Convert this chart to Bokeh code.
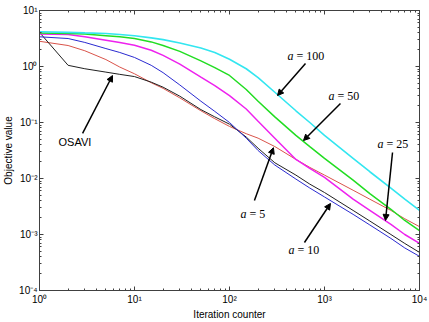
from bokeh.plotting import figure
from bokeh.models import Label, Arrow, NormalHead, LogAxis, LogTicker, CustomJSTickFormatter, Range1d
from bokeh.embed import file_html
from bokeh.resources import INLINE

# ---- data ----
iterations = [1, 2, 3, 5, 7, 10, 15, 20, 30, 50, 70, 100, 150, 200, 300, 500, 700,
              1000, 2000, 3000, 5000, 7000, 10000]
obj_a100 = [4.17, 4.07, 3.98, 3.89, 3.72, 3.55, 3.24, 3.02, 2.63, 2.14, 1.78, 1.35, 0.912,
            0.631, 0.347, 0.162, 0.100, 0.0589, 0.0229, 0.0132, 0.00676, 0.00427, 0.00269]
obj_a50 = [3.98, 3.89, 3.80, 3.55, 3.39, 3.16, 2.75, 2.37, 1.86, 1.26, 0.955, 0.692, 0.389,
           0.240, 0.126, 0.0589, 0.0372, 0.0229, 0.00933, 0.00537, 0.00282, 0.00178, 0.00117]
obj_a25 = [3.80, 3.72, 3.39, 2.95, 2.69, 2.40, 1.95, 1.58, 1.10, 0.646, 0.457, 0.302, 0.174,
           0.105, 0.0525, 0.0219, 0.0151, 0.0105, 0.00427, 0.00269, 0.00151, 0.00100, 0.000692]
obj_a10 = [3.39, 3.16, 2.69, 2.09, 1.78, 1.45, 1.05, 0.776, 0.468, 0.240, 0.158, 0.100, 0.0525,
           0.0316, 0.0174, 0.00977, 0.00676, 0.00468, 0.00229, 0.00148, 0.000851, 0.000575, 0.000407]
obj_a5 = [2.82, 2.37, 1.91, 1.33, 0.977, 0.741, 0.513, 0.407, 0.275, 0.162, 0.117, 0.0851, 0.0631,
          0.0525, 0.0372, 0.0219, 0.0158, 0.0115, 0.00617, 0.00427, 0.00269, 0.00191, 0.00138]
obj_osavi = [4.07, 1.05, 0.912, 0.794, 0.724, 0.661, 0.525, 0.427, 0.295, 0.170, 0.126, 0.0933,
             0.0550, 0.0347, 0.0191, 0.0115, 0.00794, 0.00562, 0.00269, 0.00174, 0.00100, 0.000692, 0.000479]

# annotation texts and anchor points (data coordinates)
ann_value = ["100", "50", "25", "5", "10"]
ann_label_x = [408, 1102, 3614, 130.6, 418]
ann_label_y = [1.57, 0.303, 0.0405, 0.00237, 0.000518]
ann_tail_x = [631, 1473, 5200, 183, 615]
ann_tail_y = [1.13, 0.218, 0.0291, 0.00405, 0.00072]
ann_tip_x = [320, 601, 4385, 290, 1156]
ann_tip_y = [0.303, 0.0477, 0.00178, 0.0355, 0.00358]

osavi_label = "OSAVI"
osavi_label_x, osavi_label_y = 1.585, 0.044
osavi_tail_x, osavi_tail_y = 2.84, 0.0637
osavi_tip_x, osavi_tip_y = 5.87, 0.69

x_label = "Iteration counter"
y_label = "Objective value"

# ---- figure ----
p = figure(width=429, height=322, x_axis_type="log", y_axis_type="log",
           x_range=Range1d(1, 1e4), y_range=Range1d(1e-4, 10),
           output_backend="svg", toolbar_location=None,
           min_border_left=39, min_border_right=10, min_border_top=10, min_border_bottom=32,
           background_fill_color="white", border_fill_color="white")
p.xgrid.visible = False
p.ygrid.visible = False
p.outline_line_color = "#404040"
p.outline_line_width = 1

fmt_code = """
const sup = {'0':'\\u2070','1':'\\u00b9','2':'\\u00b2','3':'\\u00b3','4':'\\u2074','5':'\\u2075','6':'\\u2076','7':'\\u2077','8':'\\u2078','9':'\\u2079','-':'\\u207b'};
const e = Math.round(Math.log(tick) / Math.LN10);
const s = String(e);
let out = '10';
for (let i = 0; i < s.length; i++) { out += sup[s[i]]; }
return out;
"""

for ax in (p.xaxis[0], p.yaxis[0]):
    ax.ticker = LogTicker(num_minor_ticks=10)
    ax.formatter = CustomJSTickFormatter(code=fmt_code)
    ax.axis_line_color = "#404040"
    ax.major_tick_line_color = "#404040"
    ax.minor_tick_line_color = "#404040"
    ax.major_tick_in = 4
    ax.major_tick_out = 0
    ax.minor_tick_in = 2
    ax.minor_tick_out = 0
    ax.major_label_text_font = "Liberation Sans"
    ax.major_label_text_font_size = "10px"
    ax.major_label_text_color = "black"
    ax.axis_label_text_font = "Liberation Sans"
    ax.axis_label_text_font_size = "10px"
    ax.axis_label_text_font_style = "normal"
    ax.axis_label_text_color = "black"

p.xaxis.major_label_standoff = 3
p.xaxis.axis_label_standoff = 1
p.yaxis.major_label_standoff = 2
p.yaxis.axis_label_standoff = 2
p.xaxis.axis_label = x_label
p.yaxis.axis_label = y_label

for side in ("right", "above"):
    ax = LogAxis(ticker=LogTicker(num_minor_ticks=10),
                 formatter=CustomJSTickFormatter(code="return '';"),
                 major_label_standoff=0,
                 axis_line_color="#404040", major_tick_line_color="#404040",
                 minor_tick_line_color="#404040",
                 major_tick_in=4, major_tick_out=0, minor_tick_in=2, minor_tick_out=0)
    p.add_layout(ax, side)

# ---- lines ----
p.line(iterations, obj_a5, line_color="#d9534a", line_width=1)
p.line(iterations, obj_osavi, line_color="#202020", line_width=1)
p.line(iterations, obj_a10, line_color="#2a2ad0", line_width=1)
p.line(iterations, obj_a25, line_color="#ee22ee", line_width=1.5)
p.line(iterations, obj_a50, line_color="#22dd22", line_width=1.5)
p.line(iterations, obj_a100, line_color="#33e6f0", line_width=1.6)

# ---- annotations ----
for v, lx, ly, tx, ty, hx, hy in zip(ann_value, ann_label_x, ann_label_y,
                                     ann_tail_x, ann_tail_y, ann_tip_x, ann_tip_y):
    p.add_layout(Label(x=lx, y=ly, text="a", text_font="Liberation Serif",
                       text_font_style="italic", text_font_size="12px",
                       text_baseline="middle", text_align="left", text_color="black"))
    p.add_layout(Label(x=lx, y=ly, x_offset=9, text="= " + v, text_font="Liberation Serif",
                       text_font_size="12px", text_baseline="middle", text_align="left",
                       text_color="black"))
    p.add_layout(Arrow(end=NormalHead(size=6, fill_color="black", line_color="black"),
                       x_start=tx, y_start=ty, x_end=hx, y_end=hy,
                       line_color="black", line_width=1.5))

p.add_layout(Label(x=osavi_label_x, y=osavi_label_y, text=osavi_label,
                   text_font="Liberation Sans", text_font_size="11px",
                   text_baseline="middle", text_align="left", text_color="black"))
p.add_layout(Arrow(end=NormalHead(size=6, fill_color="black", line_color="black"),
                   x_start=osavi_tail_x, y_start=osavi_tail_y,
                   x_end=osavi_tip_x, y_end=osavi_tip_y,
                   line_color="black", line_width=1.5))

open("out.html", "w").write(file_html(p, INLINE))
